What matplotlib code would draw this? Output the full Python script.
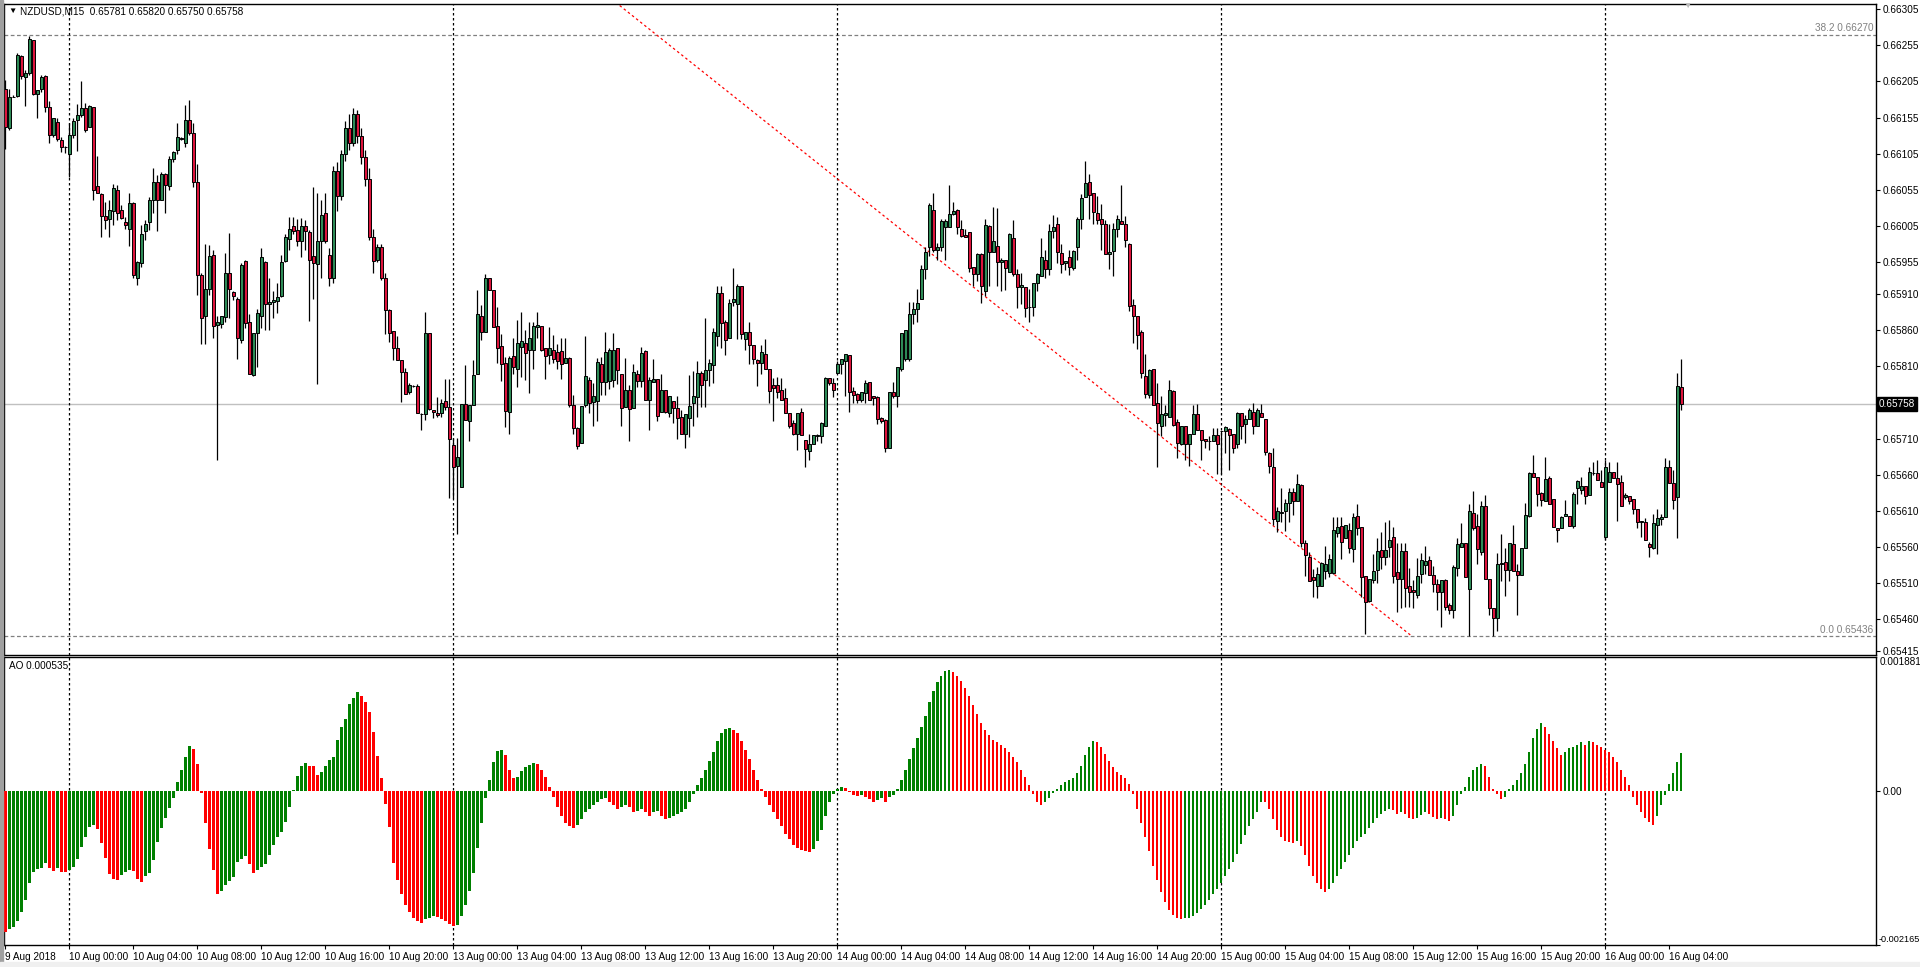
import matplotlib
matplotlib.use("Agg")
import matplotlib.pyplot as plt

plt.rcParams['font.family'] = ['Liberation Sans', 'DejaVu Sans']

# NZDUSD M15, prices in points (1e-5), one entry per 15-minute bar
opens = [
    66195, 66141, 66184, 66185, 66240, 66211, 66216, 66262, 66187, 66195,
    66212, 66169, 66131, 66149, 66124, 66114, 66104, 66131, 66151, 66159,
    66168, 66142, 66169, 66060, 66049, 66019, 66014, 66026, 66055, 66027,
    66010, 66001, 66037, 65933, 65953, 65998, 66010, 66041, 66066, 66041,
    66077, 66060, 66098, 66110, 66127, 66119, 66152, 66134, 66066, 65937,
    65880, 65918, 65964, 65867, 65869, 65879, 65940, 65913, 65904, 65847,
    65956, 65872, 65798, 65857, 65880, 65955, 65897, 65900, 65901, 65907,
    65956, 65987, 66004, 65999, 65984, 66005, 65997, 65963, 65952, 65984,
    66022, 65964, 65932, 66081, 66046, 66105, 66140, 66120, 66160, 66130,
    66100, 66070, 65990, 65957, 65975, 65933, 65888, 65859, 65836, 65819,
    65802, 65775, 65783, 65783, 65744, 65744, 65857, 65750, 65746, 65745,
    65762, 65754, 65701, 65672, 65643, 65758, 65734, 65756, 65800, 65880,
    65858, 65933, 65916, 65866, 65839, 65815, 65747, 65824, 65807, 65837,
    65843, 65833, 65833, 65865, 65866, 65836, 65826, 65833, 65830, 65832,
    65815, 65822, 65757, 65725, 65704, 65757, 65791, 65761, 65762, 65814,
    65789, 65790, 65791, 65835, 65799, 65754, 65778, 65753, 65800, 65790,
    65831, 65764, 65789, 65793, 65747, 65777, 65746, 65762, 65753, 65740,
    65716, 65739, 65760, 65767, 65801, 65791, 65805, 65812, 65852, 65912,
    65872, 65849, 65900, 65897, 65921, 65848, 65858, 65840, 65819, 65815,
    65827, 65807, 65784, 65784, 65777, 65766, 65746, 65732, 65716, 65747,
    65708, 65693, 65703, 65714, 65714, 65728, 65794, 65787, 65801, 65814,
    65818, 65826, 65776, 65772, 65764, 65773, 65788, 65769, 65767, 65738,
    65736, 65697, 65775, 65769, 65806, 65821, 65820, 65883, 65889, 65904,
    65945, 65975, 66027, 65971, 65976, 66003, 66003, 66021, 66027, 66001,
    65992, 65997, 65948, 65938, 65966, 65915, 66005, 65968, 65977, 65955,
    65957, 65941, 65988, 65938, 65920, 65920, 65893, 65892, 65926, 65935,
    65958, 65945, 65998, 66008, 65967, 65953, 65961, 65947, 65975, 66015,
    66045, 66065, 66051, 66022, 66014, 66008, 65966, 65970, 66001, 66011,
    66008, 65979, 65895, 65880, 65858, 65797, 65770, 65806, 65759, 65727,
    65743, 65740, 65776, 65733, 65702, 65727, 65703, 65717, 65744, 65722,
    65709, 65706, 65706, 65715, 65720, 65721, 65723, 65716, 65703, 65745,
    65730, 65737, 65747, 65727, 65746, 65737, 65690, 65670, 65596, 65607,
    65609, 65621, 65636, 65624, 65646, 65566, 65546, 65518, 65506, 65506,
    65527, 65524, 65524, 65579, 65589, 65572, 65584, 65557, 65603, 65587,
    65520, 65485, 65514, 65528, 65556, 65546, 65560, 65574, 65525, 65516,
    65554, 65506, 65500, 65493, 65522, 65535, 65542, 65521, 65509, 65497,
    65514, 65479, 65472, 65530, 65560, 65565, 65501, 65607, 65589, 65553,
    65617, 65515, 65475, 65461, 65536, 65539, 65528, 65564, 65527, 65521,
    65558, 65603, 65662, 65657, 65634, 65624, 65656, 65626, 65586, 65586,
    65603, 65603, 65589, 65641, 65639, 65644, 65632, 65663, 65662, 65650,
    65573, 65650, 65664, 65655, 65650, 65629, 65630, 65626, 65612, 65594,
    65595, 65564, 65559, 65590, 65598, 65601, 65671, 65649, 65629, 65781,
]
highs = [
    66207, 66194, 66186, 66245, 66241, 66221, 66268, 66262, 66193, 66214,
    66214, 66178, 66154, 66154, 66128, 66115, 66147, 66154, 66174, 66205,
    66175, 66172, 66169, 66101, 66050, 66038, 66041, 66063, 66062, 66034,
    66017, 66051, 66038, 65956, 66006, 66013, 66045, 66085, 66075, 66080,
    66078, 66102, 66108, 66147, 66128, 66172, 66179, 66148, 66090, 65939,
    65980, 65978, 65972, 65880, 65880, 65967, 65995, 65915, 65906, 65953,
    65958, 65883, 65856, 65890, 65974, 65956, 65933, 65915, 65926, 65964,
    65993, 66017, 66017, 66015, 66016, 66013, 65999, 66058, 66050, 66041,
    66050, 65974, 66088, 66094, 66110, 66150, 66160, 66168, 66165, 66140,
    66110, 66085, 66000, 65980, 65980, 65940, 65890, 65859, 65852, 65819,
    65808, 65787, 65784, 65786, 65745, 65886, 65857, 65750, 65768, 65765,
    65792, 65792, 65711, 65711, 65758, 65812, 65756, 65819, 65916, 65895,
    65938, 65933, 65916, 65893, 65855, 65823, 65824, 65850, 65874, 65886,
    65861, 65872, 65872, 65885, 65866, 65836, 65864, 65853, 65841, 65850,
    65849, 65823, 65771, 65726, 65755, 65852, 65796, 65787, 65822, 65823,
    65858, 65835, 65856, 65835, 65799, 65822, 65784, 65814, 65805, 65837,
    65833, 65795, 65821, 65793, 65800, 65777, 65769, 65762, 65769, 65750,
    65744, 65798, 65803, 65818, 65803, 65877, 65820, 65863, 65921, 65921,
    65874, 65903, 65946, 65924, 65922, 65858, 65872, 65840, 65821, 65840,
    65848, 65807, 65794, 65796, 65794, 65780, 65746, 65736, 65745, 65752,
    65708, 65717, 65715, 65717, 65733, 65795, 65794, 65794, 65817, 65820,
    65827, 65826, 65781, 65773, 65775, 65791, 65788, 65769, 65769, 65740,
    65737, 65775, 65788, 65809, 65857, 65861, 65900, 65900, 65917, 65951,
    65976, 66037, 66050, 65981, 66015, 66015, 66061, 66038, 66028, 66013,
    66001, 65997, 65948, 65967, 65967, 66015, 66006, 66031, 66029, 65960,
    65957, 65995, 66013, 65945, 65940, 65920, 65917, 65926, 65940, 65988,
    65971, 66007, 66020, 66017, 65980, 65956, 65972, 65971, 66017, 66049,
    66095, 66077, 66051, 66046, 66035, 66013, 66007, 66009, 66020, 66061,
    66018, 65981, 65904, 65880, 65861, 65827, 65807, 65806, 65787, 65769,
    65757, 65791, 65777, 65737, 65727, 65727, 65717, 65757, 65758, 65722,
    65709, 65713, 65724, 65724, 65721, 65727, 65724, 65716, 65747, 65746,
    65743, 65753, 65760, 65752, 65758, 65737, 65692, 65697, 65615, 65642,
    65626, 65642, 65642, 65661, 65647, 65569, 65553, 65529, 65532, 65539,
    65561, 65550, 65601, 65601, 65601, 65590, 65593, 65607, 65619, 65587,
    65520, 65515, 65550, 65572, 65580, 65594, 65597, 65587, 65566, 65566,
    65566, 65530, 65514, 65544, 65551, 65561, 65547, 65533, 65515, 65514,
    65516, 65482, 65535, 65572, 65593, 65566, 65619, 65637, 65606, 65623,
    65632, 65516, 65475, 65552, 65578, 65558, 65565, 65590, 65536, 65558,
    65621, 65664, 65687, 65657, 65636, 65684, 65658, 65626, 65586, 65603,
    65625, 65603, 65636, 65653, 65657, 65644, 65671, 65678, 65680, 65666,
    65680, 65678, 65664, 65678, 65660, 65634, 65630, 65626, 65613, 65596,
    65600, 65567, 65606, 65612, 65606, 65683, 65681, 65667, 65801, 65820,
]
lows = [
    66112, 66137, 66183, 66184, 66209, 66171, 66214, 66186, 66155, 66191,
    66163, 66119, 66128, 66123, 66107, 66106, 66073, 66126, 66109, 66156,
    66135, 66142, 66040, 66050, 65990, 66000, 65990, 66006, 66013, 66015,
    66000, 65977, 65932, 65923, 65948, 65985, 65999, 66022, 65998, 66041,
    66022, 66055, 66094, 66105, 66124, 66114, 66131, 66058, 65909, 65841,
    65841, 65909, 65850, 65681, 65863, 65872, 65877, 65902, 65820, 65842,
    65863, 65800, 65797, 65809, 65863, 65861, 65860, 65877, 65884, 65906,
    65955, 65972, 65994, 65977, 65961, 65971, 65873, 65904, 65786, 65933,
    65981, 65922, 65925, 66026, 66040, 66095, 66110, 66115, 66120, 66090,
    66060, 65985, 65940, 65955, 65930, 65855, 65844, 65819, 65819, 65761,
    65772, 65772, 65781, 65746, 65722, 65736, 65749, 65738, 65740, 65740,
    65750, 65628, 65627, 65578, 65643, 65736, 65707, 65756, 65800, 65846,
    65858, 65916, 65865, 65815, 65790, 65726, 65717, 65800, 65782, 65795,
    65791, 65773, 65807, 65849, 65832, 65793, 65814, 65815, 65807, 65793,
    65815, 65754, 65717, 65695, 65704, 65754, 65745, 65728, 65735, 65770,
    65770, 65779, 65782, 65786, 65728, 65754, 65707, 65753, 65782, 65782,
    65763, 65722, 65789, 65734, 65747, 65746, 65740, 65732, 65710, 65717,
    65697, 65712, 65727, 65740, 65754, 65754, 65783, 65787, 65838, 65835,
    65826, 65849, 65894, 65848, 65848, 65833, 65814, 65814, 65783, 65800,
    65806, 65759, 65735, 65766, 65763, 65745, 65724, 65715, 65694, 65715,
    65670, 65680, 65703, 65706, 65704, 65728, 65784, 65768, 65801, 65800,
    65769, 65747, 65759, 65759, 65761, 65759, 65764, 65757, 65730, 65731,
    65692, 65697, 65766, 65754, 65804, 65818, 65818, 65869, 65872, 65904,
    65931, 65963, 65969, 65958, 65970, 65958, 66003, 66020, 65994, 65989,
    65989, 65941, 65921, 65928, 65898, 65907, 65922, 65968, 65922, 65915,
    65916, 65941, 65935, 65891, 65897, 65879, 65872, 65880, 65914, 65935,
    65932, 65937, 65988, 65954, 65940, 65943, 65937, 65943, 65957, 66000,
    66045, 66014, 66007, 66007, 65972, 65966, 65945, 65935, 65989, 66007,
    65976, 65887, 65843, 65834, 65794, 65766, 65766, 65757, 65671, 65714,
    65727, 65740, 65728, 65683, 65701, 65680, 65672, 65716, 65722, 65681,
    65697, 65694, 65706, 65661, 65661, 65690, 65666, 65690, 65697, 65709,
    65704, 65737, 65717, 65727, 65740, 65687, 65663, 65590, 65580, 65594,
    65582, 65594, 65604, 65624, 65560, 65520, 65512, 65491, 65489, 65506,
    65515, 65518, 65522, 65574, 65543, 65572, 65551, 65539, 65576, 65491,
    65439, 65483, 65510, 65510, 65529, 65535, 65546, 65510, 65470, 65475,
    65477, 65476, 65475, 65489, 65510, 65522, 65521, 65497, 65473, 65449,
    65473, 65467, 65461, 65520, 65560, 65518, 65436, 65584, 65536, 65549,
    65515, 65466, 65436, 65444, 65513, 65492, 65513, 65527, 65466, 65521,
    65558, 65601, 65657, 65616, 65617, 65624, 65619, 65588, 65567, 65586,
    65603, 65589, 65586, 65620, 65633, 65619, 65632, 65660, 65652, 65643,
    65570, 65650, 65656, 65596, 65616, 65626, 65619, 65606, 65586, 65574,
    65569, 65546, 65557, 65550, 65590, 65601, 65649, 65612, 65572, 65750,
]
closes = [
    66142, 66184, 66184, 66241, 66213, 66217, 66264, 66188, 66193, 66211,
    66169, 66131, 66154, 66125, 66114, 66114, 66131, 66150, 66159, 66168,
    66137, 66171, 66055, 66050, 66019, 66013, 66027, 66057, 66023, 66016,
    66006, 66037, 65937, 65955, 65994, 66008, 66041, 66066, 66041, 66077,
    66061, 66097, 66107, 66128, 66125, 66152, 66133, 66066, 65937, 65877,
    65918, 65963, 65866, 65871, 65880, 65940, 65917, 65907, 65850, 65951,
    65870, 65800, 65856, 65884, 65961, 65897, 65900, 65902, 65906, 65955,
    65989, 66001, 65998, 65984, 66005, 65998, 65957, 65953, 65984, 66020,
    65984, 65932, 66081, 66046, 66105, 66140, 66120, 66160, 66130, 66100,
    66070, 65990, 65956, 65975, 65932, 65888, 65856, 65836, 65819, 65802,
    65772, 65784, 65783, 65746, 65744, 65856, 65751, 65747, 65743, 65760,
    65754, 65710, 65671, 65685, 65758, 65736, 65756, 65798, 65883, 65858,
    65933, 65916, 65865, 65836, 65813, 65748, 65822, 65809, 65843, 65845,
    65829, 65850, 65866, 65868, 65833, 65825, 65836, 65821, 65818, 65813,
    65822, 65757, 65725, 65700, 65755, 65797, 65760, 65769, 65816, 65789,
    65830, 65833, 65833, 65805, 65753, 65778, 65751, 65802, 65790, 65829,
    65764, 65791, 65793, 65741, 65778, 65747, 65769, 65752, 65738, 65717,
    65744, 65755, 65769, 65801, 65784, 65805, 65815, 65858, 65912, 65870,
    65847, 65898, 65903, 65921, 65855, 65858, 65840, 65820, 65815, 65830,
    65806, 65776, 65780, 65775, 65764, 65746, 65727, 65716, 65745, 65715,
    65695, 65703, 65715, 65715, 65731, 65794, 65787, 65778, 65813, 65820,
    65827, 65774, 65770, 65764, 65775, 65787, 65764, 65766, 65737, 65735,
    65697, 65775, 65769, 65809, 65856, 65861, 65883, 65889, 65898, 65945,
    65969, 66034, 65972, 65976, 66011, 66012, 66021, 66025, 66003, 65991,
    65990, 65947, 65938, 65966, 65921, 66006, 65968, 65984, 65955, 65958,
    65947, 65994, 65938, 65920, 65923, 65891, 65893, 65926, 65938, 65961,
    65945, 65998, 66003, 65969, 65952, 65956, 65948, 65970, 66015, 66044,
    66064, 66048, 66024, 66013, 66008, 65966, 65969, 66001, 66015, 66008,
    65985, 65894, 65880, 65854, 65801, 65772, 65805, 65757, 65732, 65744,
    65745, 65778, 65729, 65704, 65727, 65703, 65717, 65744, 65722, 65708,
    65707, 65706, 65715, 65703, 65721, 65726, 65715, 65697, 65745, 65727,
    65737, 65750, 65727, 65749, 65740, 65691, 65672, 65598, 65609, 65608,
    65621, 65636, 65624, 65647, 65566, 65549, 65513, 65514, 65522, 65538,
    65536, 65543, 65583, 65588, 65567, 65590, 65558, 65601, 65586, 65518,
    65484, 65515, 65527, 65554, 65546, 65556, 65570, 65519, 65515, 65554,
    65503, 65497, 65498, 65520, 65542, 65541, 65521, 65508, 65497, 65514,
    65476, 65473, 65532, 65564, 65565, 65518, 65610, 65586, 65557, 65617,
    65515, 65475, 65462, 65536, 65537, 65528, 65565, 65527, 65521, 65558,
    65604, 65662, 65657, 65633, 65625, 65654, 65619, 65588, 65583, 65601,
    65606, 65589, 65633, 65651, 65644, 65630, 65664, 65663, 65652, 65643,
    65671, 65664, 65656, 65647, 65616, 65632, 65624, 65612, 65594, 65596,
    65570, 65560, 65593, 65600, 65601, 65671, 65649, 65625, 65783, 65758,
]

# Awesome Oscillator, in units of 1e-6
ao = [
    -1983, -1936, -1913, -1828, -1701, -1527, -1292, -1137, -1104, -1080,
    -1010, -1080, -1123, -1090, -1137, -1137, -1114, -1067, -963, -785,
    -653, -503, -479, -536, -738, -949, -1170, -1241, -1246, -1175,
    -1137, -1114, -1123, -1241, -1278, -1198, -1151, -973, -714, -517,
    -385, -244, -94, 118, 287, 475, 625, 592, 381, -33,
    -447, -813, -1114, -1443, -1405, -1325, -1264, -1208, -996, -963,
    -916, -1034, -1147, -1114, -1067, -1034, -902, -761, -644, -573,
    -432, -221, 14, 212, 343, 390, 343, 343, 226, 268,
    353, 428, 470, 710, 893, 1011, 1227, 1307, 1387, 1340,
    1246, 1105, 823, 484, 188, -188, -503, -1010, -1250, -1450,
    -1600, -1700, -1780, -1830, -1850, -1800, -1780, -1760, -1770, -1800,
    -1830, -1870, -1900, -1880, -1760, -1600, -1400, -1150, -800, -450,
    -100, 150, 400, 560, 580, 500, 300, 180, 200, 280,
    330, 370, 390, 380, 300, 200, 60, -80, -220, -350,
    -450, -500, -520, -480, -400, -300, -250, -200, -150, -120,
    -100, -150, -200, -250, -230, -200, -220, -300, -280, -250,
    -300, -350, -300, -280, -350, -400, -380, -350, -330, -300,
    -250, -150, -50, 80, 180, 300, 420, 550, 700, 820,
    870, 880, 860, 820, 700, 580, 450, 300, 150, 30,
    -80, -200, -300, -400, -500, -600, -680, -760, -800, -830,
    -850, -860, -820, -700, -550, -350, -150, -50, 30, 60,
    40, -20, -60, -70, -60, -80, -120, -150, -130, -100,
    -150, -80, -60, 20, 150, 300, 450, 600, 750, 900,
    1050, 1250, 1400, 1530, 1620, 1680, 1700, 1670, 1620, 1550,
    1450, 1330, 1200, 1080, 950, 850, 780, 720, 680, 650,
    600, 550, 480, 400, 300, 200, 80, -50, -150, -200,
    -160, -100, -30, 30, 80, 120, 150, 180, 250, 350,
    500, 620, 700, 680, 620, 520, 420, 330, 270, 230,
    180, 100, -50, -250, -450, -650, -850, -1050, -1250, -1420,
    -1560, -1680, -1750, -1790, -1800, -1790, -1780, -1760, -1720, -1660,
    -1600, -1530, -1450, -1380, -1300, -1200, -1100, -1000, -880, -750,
    -620, -500, -400, -300, -150, -160, -250, -400, -550, -650,
    -700, -720, -730, -700, -780, -900, -1050, -1200, -1300, -1380,
    -1420, -1380, -1300, -1200, -1100, -1000, -900, -800, -700, -650,
    -600, -520, -450, -380, -320, -280, -250, -270, -320, -300,
    -330, -380, -400, -380, -340, -300, -320, -360, -400, -380,
    -400, -420, -350, -200, -50, 50, 200, 300, 330, 380,
    350, 200, 20, -50, -120, -80, 20, 80, 150, 250,
    380, 550, 750, 870, 950, 900, 800, 700, 600, 500,
    550, 600, 620, 650, 680, 650, 700, 680, 640, 620,
    580, 540, 480, 400, 300, 200, 80, -80, -200, -300,
    -380, -440, -480, -350, -200, -60, 90, 250, 400, 535,
]

time_labels = [
    "9 Aug 2018", "10 Aug 00:00", "10 Aug 04:00", "10 Aug 08:00", "10 Aug 12:00",
    "10 Aug 16:00", "10 Aug 20:00", "13 Aug 00:00", "13 Aug 04:00", "13 Aug 08:00",
    "13 Aug 12:00", "13 Aug 16:00", "13 Aug 20:00", "14 Aug 00:00", "14 Aug 04:00",
    "14 Aug 08:00", "14 Aug 12:00", "14 Aug 16:00", "14 Aug 20:00", "15 Aug 00:00",
    "15 Aug 04:00", "15 Aug 08:00", "15 Aug 12:00", "15 Aug 16:00", "15 Aug 20:00",
    "16 Aug 00:00", "16 Aug 04:00",
]
bars_per_label = 16
day_starts = [16, 112, 208, 304, 400]
price_ticks = [0.66305, 0.66255, 0.66205, 0.66155, 0.66105, 0.66055, 0.66005,
               0.65955, 0.65910, 0.65860, 0.65810, 0.65710, 0.65660, 0.65610,
               0.65560, 0.65510, 0.65460, 0.65415]
price_range = (0.654101, 0.663123)
ao_range = (-0.002165, 0.001881)
bid = 0.65758
fib_levels = [("38.2", 0.66270), ("0.0", 0.65436)]
fib_line = ([-143, 351.7], [0.67619, 0.65436])
header = "NZDUSD,M15  0.65781 0.65820 0.65750 0.65758"

assert len(opens) == len(highs) == len(lows) == len(closes) == len(ao) == 420

W, H = 1920, 967


def px_rect(x0, y0, x1, y1):
    return [x0 / W, 1 - y1 / H, (x1 - x0) / W, (y1 - y0) / H]


fig = plt.figure(figsize=(W / 100, H / 100), dpi=100, facecolor="white")
ax = fig.add_axes(px_rect(4, 4, 1876, 655))
ax2 = fig.add_axes(px_rect(4, 657, 1876, 945), sharex=ax)

n = len(closes)
x = list(range(n))
o = [v / 1e5 for v in opens]
h = [v / 1e5 for v in highs]
l = [v / 1e5 for v in lows]
c = [v / 1e5 for v in closes]

# candles
ax.vlines(x, l, h, color="black", lw=0.9, zorder=3)
bottoms = [min(a, b) for a, b in zip(o, c)]
heights = [abs(b - a) for a, b in zip(o, c)]
cols = ["#2E8B57" if b > a else "#DC143C" for a, b in zip(o, c)]
ax.bar(x, heights, bottom=bottoms, width=0.68, color=cols,
       edgecolor="black", linewidth=0.7, zorder=4)

# awesome oscillator: green when rising, red when falling
ao_vals = [v / 1e6 for v in ao]
ao_cols = ["#008000" if i > 0 and ao_vals[i] > ao_vals[i - 1] else "#FF0000"
           for i in range(n)]
ax2.bar(x, ao_vals, width=0.62, color=ao_cols, linewidth=0, zorder=3)

xlim = (-0.33, 467.7)
for a in (ax, ax2):
    a.set_xlim(*xlim)
    for d in day_starts:
        a.axvline(d, color="black", lw=0.9, dashes=(2, 2), zorder=2)
    for s in a.spines.values():
        s.set_color("black")
        s.set_linewidth(1.0)

ax.set_ylim(*price_range)
ax2.set_ylim(*ao_range)

# price axis
ax.yaxis.tick_right()
ax.set_yticks(price_ticks)
ax.set_yticklabels([f"{t:.5f}" for t in price_ticks])
ax.tick_params(axis="y", length=3, width=0.8, pad=2, labelsize=7.2)
ax.tick_params(axis="x", bottom=False, labelbottom=False)

# oscillator axis
ax2.yaxis.tick_right()
ax2.set_yticks([0, ao_range[0]])
ax2.set_yticklabels(["0.00", ""])
ax2.tick_params(axis="y", length=3, width=0.8, pad=2, labelsize=7.2)
ax2.set_xticks([i * bars_per_label for i in range(len(time_labels))])
ax2.set_xticklabels(time_labels, ha="left")
ax2.tick_params(axis="x", length=3, width=0.8, pad=2, labelsize=7.2)

ytr = ax.get_yaxis_transform()
ytr2 = ax2.get_yaxis_transform()
ax2.text(1.0 + 4 / 1872, ao_range[1], "0.001881", transform=ytr2, fontsize=7.2,
         va="top", ha="left", clip_on=False)
ax2.text(1.0 + 3 / 1872, ao_range[0] + 0.00008, "-0.002165", transform=ytr2,
         fontsize=6.6, va="center", ha="left", clip_on=False)

# bid line and label
ax.axhline(bid, color="#C0C0C0", lw=1.0, zorder=1)
ax.text(1.0 + 3 / 1872, bid, f"{bid:.5f}", transform=ytr, fontsize=7.2,
        color="white", va="center", ha="left", clip_on=False, zorder=10,
        bbox=dict(facecolor="black", edgecolor="black", pad=1.2))

# fibonacci levels and trend line
for name, lvl in fib_levels:
    ax.axhline(lvl, color="#808080", lw=0.9, dashes=(3, 2), zorder=1)
    ax.text(0.9985, lvl + 0.00002, f"{name} {lvl:.5f}", transform=ytr,
            fontsize=7.2, color="#808080", ha="right", va="bottom")
ax.plot(fib_line[0], fib_line[1], color="#FF0000", lw=0.9, dashes=(2, 2.2),
        zorder=2)

# texts
fig.text(8 / W, 1 - 11 / H, "\u25BC", fontsize=6, va="center", ha="left")
fig.text(20 / W, 1 - 11 / H, header, fontsize=7.2, va="center", ha="left")
fig.text(9 / W, 1 - 666 / H, "AO 0.000535", fontsize=7.2, va="center", ha="left")
fig.text(1687 / W, 1 - 6 / H, "\u25BC", fontsize=6, color="#B8B8B8",
         va="center", ha="center")

# window frame
fig.patches.append(plt.Rectangle((0, 0), 3 / W, 1, transform=fig.transFigure,
                                 color="#A0A0A0", zorder=0))
fig.patches.append(plt.Rectangle((0, 0), 1, 5 / H, transform=fig.transFigure,
                                 color="#F0F0F0", zorder=0))

fig.savefig("out.png", dpi=100, facecolor="white")
